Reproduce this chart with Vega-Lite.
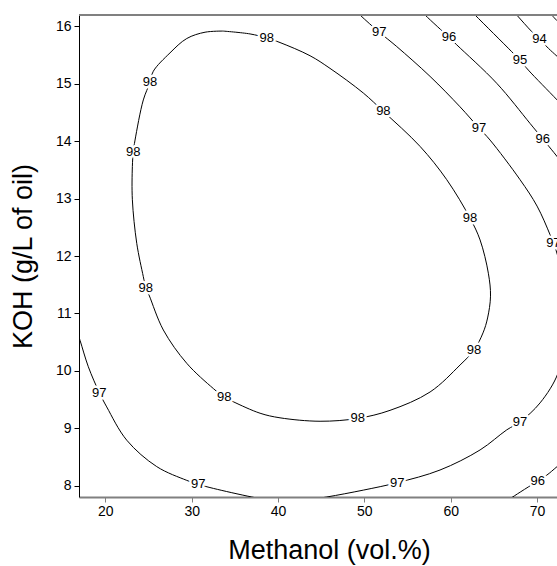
{
  "$schema": "https://vega.github.io/schema/vega-lite/v6.json",
  "width": 478,
  "height": 482,
  "autosize": {"type": "none"},
  "padding": {"left": 79, "top": 15, "right": 0, "bottom": 69},
  "background": "white",
  "config": {
    "font": "Liberation Sans",
    "view": {"stroke": null},
    "axisX": {"grid": false, "domainColor": "#808080", "domainWidth": 2, "tickColor": "#808080", "tickSize": 5, "labelFont": "Liberation Sans", "labelFontSize": 14, "labelColor": "#000000", "labelPadding": 2, "titleFont": "Liberation Sans", "titleFontSize": 27, "titleFontWeight": "normal", "titleColor": "#000000", "titlePadding": 19, "titleX": 250},
    "axisY": {"grid": false, "domainColor": "#000000", "domainWidth": 1, "tickColor": "#000000", "tickSize": 5, "labelFont": "Liberation Sans", "labelFontSize": 14, "labelColor": "#000000", "labelPadding": 3, "titleFont": "Liberation Sans", "titleFontSize": 27, "titleFontWeight": "normal", "titleColor": "#000000", "titlePadding": 18}
  },
  "datasets": {
    "lines": [
      {"id": "98", "seq": 1, "x": 33.63, "y": 15.92},
      {"id": "98", "seq": 2, "x": 36.76, "y": 15.87},
      {"id": "98", "seq": 3, "x": 38.69, "y": 15.80},
      {"id": "98", "seq": 4, "x": 40.23, "y": 15.72},
      {"id": "98", "seq": 5, "x": 43.71, "y": 15.49},
      {"id": "98", "seq": 6, "x": 46.02, "y": 15.27},
      {"id": "98", "seq": 7, "x": 49.88, "y": 14.84},
      {"id": "98", "seq": 8, "x": 52.20, "y": 14.52},
      {"id": "98", "seq": 9, "x": 56.45, "y": 13.91},
      {"id": "98", "seq": 10, "x": 59.54, "y": 13.33},
      {"id": "98", "seq": 11, "x": 62.24, "y": 12.66},
      {"id": "98", "seq": 12, "x": 63.40, "y": 12.28},
      {"id": "98", "seq": 13, "x": 64.36, "y": 11.70},
      {"id": "98", "seq": 14, "x": 64.61, "y": 11.30},
      {"id": "98", "seq": 15, "x": 64.27, "y": 10.92},
      {"id": "98", "seq": 16, "x": 63.74, "y": 10.66},
      {"id": "98", "seq": 17, "x": 62.70, "y": 10.36},
      {"id": "98", "seq": 18, "x": 61.08, "y": 10.10},
      {"id": "98", "seq": 19, "x": 57.61, "y": 9.63},
      {"id": "98", "seq": 20, "x": 52.97, "y": 9.31},
      {"id": "98", "seq": 21, "x": 49.23, "y": 9.17},
      {"id": "98", "seq": 22, "x": 44.87, "y": 9.12},
      {"id": "98", "seq": 23, "x": 40.23, "y": 9.18},
      {"id": "98", "seq": 24, "x": 37.92, "y": 9.26},
      {"id": "98", "seq": 25, "x": 34.82, "y": 9.46},
      {"id": "98", "seq": 26, "x": 33.78, "y": 9.54},
      {"id": "98", "seq": 27, "x": 32.51, "y": 9.69},
      {"id": "98", "seq": 28, "x": 29.43, "y": 10.13},
      {"id": "98", "seq": 29, "x": 26.72, "y": 10.71},
      {"id": "98", "seq": 30, "x": 25.06, "y": 11.32},
      {"id": "98", "seq": 31, "x": 24.68, "y": 11.45},
      {"id": "98", "seq": 32, "x": 24.40, "y": 11.64},
      {"id": "98", "seq": 33, "x": 23.64, "y": 12.22},
      {"id": "98", "seq": 34, "x": 23.13, "y": 12.98},
      {"id": "98", "seq": 35, "x": 23.13, "y": 13.56},
      {"id": "98", "seq": 36, "x": 23.24, "y": 13.82},
      {"id": "98", "seq": 37, "x": 23.44, "y": 14.02},
      {"id": "98", "seq": 38, "x": 24.40, "y": 14.72},
      {"id": "98", "seq": 39, "x": 25.18, "y": 15.03},
      {"id": "98", "seq": 40, "x": 25.56, "y": 15.22},
      {"id": "98", "seq": 41, "x": 27.49, "y": 15.54},
      {"id": "98", "seq": 42, "x": 29.43, "y": 15.79},
      {"id": "98", "seq": 43, "x": 31.55, "y": 15.90},
      {"id": "98", "seq": 44, "x": 33.63, "y": 15.92},

      {"id": "97a", "seq": 1, "x": 48.34, "y": 16.38},
      {"id": "97a", "seq": 2, "x": 49.50, "y": 16.20},
      {"id": "97a", "seq": 3, "x": 51.73, "y": 15.90},
      {"id": "97a", "seq": 4, "x": 53.75, "y": 15.65},
      {"id": "97a", "seq": 5, "x": 57.61, "y": 15.13},
      {"id": "97a", "seq": 6, "x": 61.08, "y": 14.60},
      {"id": "97a", "seq": 7, "x": 63.28, "y": 14.23},
      {"id": "97a", "seq": 8, "x": 64.56, "y": 14.02},
      {"id": "97a", "seq": 9, "x": 68.03, "y": 13.33},
      {"id": "97a", "seq": 10, "x": 70.00, "y": 12.87},
      {"id": "97a", "seq": 11, "x": 71.51, "y": 12.37},
      {"id": "97a", "seq": 12, "x": 72.20, "y": 12.10},
      {"id": "97a", "seq": 13, "x": 72.90, "y": 11.67},
      {"id": "97a", "seq": 14, "x": 73.24, "y": 11.15},
      {"id": "97a", "seq": 15, "x": 73.01, "y": 10.53},
      {"id": "97a", "seq": 16, "x": 72.43, "y": 9.96},
      {"id": "97a", "seq": 17, "x": 70.35, "y": 9.44},
      {"id": "97a", "seq": 18, "x": 68.03, "y": 9.11},
      {"id": "97a", "seq": 19, "x": 66.49, "y": 8.97},
      {"id": "97a", "seq": 20, "x": 63.40, "y": 8.62},
      {"id": "97a", "seq": 21, "x": 58.76, "y": 8.27},
      {"id": "97a", "seq": 22, "x": 53.82, "y": 8.05},
      {"id": "97a", "seq": 23, "x": 49.88, "y": 7.92},
      {"id": "97a", "seq": 24, "x": 45.64, "y": 7.80},
      {"id": "97a", "seq": 25, "x": 42.55, "y": 7.73},

      {"id": "97b", "seq": 1, "x": 16.61, "y": 10.74},
      {"id": "97b", "seq": 2, "x": 17.07, "y": 10.53},
      {"id": "97b", "seq": 3, "x": 18.03, "y": 10.07},
      {"id": "97b", "seq": 4, "x": 19.30, "y": 9.62},
      {"id": "97b", "seq": 5, "x": 20.16, "y": 9.37},
      {"id": "97b", "seq": 6, "x": 22.48, "y": 8.79},
      {"id": "97b", "seq": 7, "x": 25.95, "y": 8.33},
      {"id": "97b", "seq": 8, "x": 29.43, "y": 8.09},
      {"id": "97b", "seq": 9, "x": 30.77, "y": 8.02},
      {"id": "97b", "seq": 10, "x": 32.51, "y": 7.95},
      {"id": "97b", "seq": 11, "x": 36.96, "y": 7.80},
      {"id": "97b", "seq": 12, "x": 40.23, "y": 7.71},

      {"id": "96a", "seq": 1, "x": 55.87, "y": 16.38},
      {"id": "96a", "seq": 2, "x": 57.03, "y": 16.20},
      {"id": "96a", "seq": 3, "x": 59.81, "y": 15.81},
      {"id": "96a", "seq": 4, "x": 60.70, "y": 15.68},
      {"id": "96a", "seq": 5, "x": 65.33, "y": 15.01},
      {"id": "96a", "seq": 6, "x": 69.19, "y": 14.31},
      {"id": "96a", "seq": 7, "x": 70.66, "y": 14.04},
      {"id": "96a", "seq": 8, "x": 71.70, "y": 13.85},
      {"id": "96a", "seq": 9, "x": 73.82, "y": 13.45},

      {"id": "96b", "seq": 1, "x": 66.29, "y": 7.71},
      {"id": "96b", "seq": 2, "x": 67.07, "y": 7.79},
      {"id": "96b", "seq": 3, "x": 70.08, "y": 8.08},
      {"id": "96b", "seq": 4, "x": 71.12, "y": 8.18},
      {"id": "96b", "seq": 5, "x": 72.32, "y": 8.33},
      {"id": "96b", "seq": 6, "x": 74.98, "y": 8.67},

      {"id": "95", "seq": 1, "x": 61.66, "y": 16.38},
      {"id": "95", "seq": 2, "x": 62.82, "y": 16.20},
      {"id": "95", "seq": 3, "x": 67.07, "y": 15.56},
      {"id": "95", "seq": 4, "x": 68.03, "y": 15.41},
      {"id": "95", "seq": 5, "x": 68.99, "y": 15.24},
      {"id": "95", "seq": 6, "x": 72.32, "y": 14.72},
      {"id": "95", "seq": 7, "x": 74.40, "y": 14.39},

      {"id": "94", "seq": 1, "x": 66.64, "y": 16.38},
      {"id": "94", "seq": 2, "x": 67.65, "y": 16.20},
      {"id": "94", "seq": 3, "x": 69.39, "y": 15.91},
      {"id": "94", "seq": 4, "x": 70.27, "y": 15.78},
      {"id": "94", "seq": 5, "x": 71.31, "y": 15.62},
      {"id": "94", "seq": 6, "x": 72.32, "y": 15.48},
      {"id": "94", "seq": 7, "x": 74.98, "y": 15.11},

      {"id": "93", "seq": 1, "x": 70.69, "y": 16.38},
      {"id": "93", "seq": 2, "x": 71.70, "y": 16.20},
      {"id": "93", "seq": 3, "x": 72.32, "y": 16.10},
      {"id": "93", "seq": 4, "x": 74.98, "y": 15.72}
    ],
    "labels": [
      {"label": "98", "x": 38.69, "y": 15.80},
      {"label": "98", "x": 25.18, "y": 15.03},
      {"label": "98", "x": 23.24, "y": 13.82},
      {"label": "98", "x": 24.68, "y": 11.45},
      {"label": "98", "x": 33.78, "y": 9.54},
      {"label": "98", "x": 49.23, "y": 9.17},
      {"label": "98", "x": 62.70, "y": 10.36},
      {"label": "98", "x": 62.24, "y": 12.66},
      {"label": "98", "x": 52.20, "y": 14.52},
      {"label": "97", "x": 51.73, "y": 15.90},
      {"label": "97", "x": 63.28, "y": 14.23},
      {"label": "97", "x": 71.89, "y": 12.22},
      {"label": "97", "x": 68.03, "y": 9.11},
      {"label": "97", "x": 53.82, "y": 8.05},
      {"label": "97", "x": 30.77, "y": 8.02},
      {"label": "97", "x": 19.30, "y": 9.62},
      {"label": "96", "x": 59.81, "y": 15.81},
      {"label": "96", "x": 70.66, "y": 14.04},
      {"label": "96", "x": 70.08, "y": 8.08},
      {"label": "95", "x": 68.03, "y": 15.41},
      {"label": "94", "x": 70.27, "y": 15.78}
    ]
  },
  "layer": [
    {
      "data": {"name": "lines"},
      "mark": {"type": "line", "interpolate": "catmull-rom", "clip": true, "color": "#000000", "strokeWidth": 1},
      "encoding": {
        "x": {"field": "x", "type": "quantitative", "scale": {"domain": [16.95, 72.31], "nice": false, "zero": false}, "title": "Methanol (vol.%)", "axis": {"values": [20, 30, 40, 50, 60, 70], "format": "d"}},
        "y": {"field": "y", "type": "quantitative", "scale": {"domain": [7.8, 16.2], "nice": false, "zero": false}, "title": "KOH (g/L of oil)", "axis": {"values": [8, 9, 10, 11, 12, 13, 14, 15, 16], "format": "d"}},
        "detail": {"field": "id", "type": "nominal"},
        "order": {"field": "seq", "type": "quantitative"}
      }
    },
    {
      "data": {"name": "labels"},
      "mark": {"type": "text", "clip": true, "fontSize": 13, "font": "Liberation Sans", "fill": "white", "stroke": "white", "strokeWidth": 5, "strokeJoin": "round", "align": "center", "baseline": "middle"},
      "encoding": {
        "x": {"field": "x", "type": "quantitative", "title": "Methanol (vol.%)"},
        "y": {"field": "y", "type": "quantitative", "title": "KOH (g/L of oil)"},
        "text": {"field": "label"}
      }
    },
    {
      "data": {"name": "labels"},
      "mark": {"type": "text", "clip": true, "fontSize": 13, "font": "Liberation Sans", "color": "#000000", "align": "center", "baseline": "middle"},
      "encoding": {
        "x": {"field": "x", "type": "quantitative", "title": "Methanol (vol.%)"},
        "y": {"field": "y", "type": "quantitative", "title": "KOH (g/L of oil)"},
        "text": {"field": "label"}
      }
    },
    {
      "data": {"values": [{}]},
      "mark": {"type": "rule", "color": "#808080", "strokeWidth": 2},
      "encoding": {
        "y": {"datum": 16.2, "type": "quantitative", "title": "KOH (g/L of oil)"}
      }
    }
  ]
}
